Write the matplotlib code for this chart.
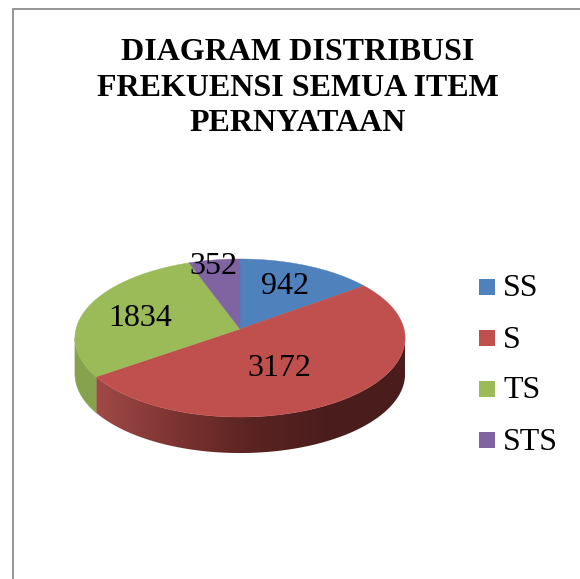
import numpy as np
import matplotlib.pyplot as plt
from matplotlib.colors import LinearSegmentedColormap
from matplotlib.patches import Polygon, Rectangle

plt.rcParams['font.family'] = ['Liberation Serif', 'DejaVu Serif']

labels = ['SS', 'S', 'TS', 'STS']
values = [942, 3172, 1834, 352]
colors = ['#4f81bd', '#c0504d', '#9bbb59', '#8064a2']
title = 'DIAGRAM DISTRIBUSI\nFREKUENSI SEMUA ITEM\nPERNYATAAN'

# pie geometry, in picture pixels
cx, cy = 240, 329
a, h, k = 164, 78, 0.114
depth = 36


def rim(theta):
    # clockwise from the top, k squeezes the far side of the disc
    u, v = np.sin(theta), np.cos(theta)
    d = 1 + k * v
    return cx + a * u / d, cy - h * v / d


def side_wall(th0, th1):
    x, y = rim(np.linspace(th0, th1, 200))
    return np.c_[np.r_[x, x[::-1]], np.r_[y, y[::-1] + depth]]


fig = plt.figure(figsize=(5.8, 5.79), dpi=100)
ax = fig.add_axes([0, 0, 1, 1])

# frame, only left and top show
ax.plot([12.5, 12.5, 580], [579, 8.5, 8.5], color='#8c8c8c', lw=1.3, solid_joinstyle='miter')

edges = np.cumsum([0] + values) / sum(values) * 2 * np.pi

# the wall only shows between the two widest points of the rim
right_end = np.arccos(-k)
left_end = 2 * np.pi - right_end

# red wall shades left to right, green stays flat
red_side = LinearSegmentedColormap.from_list(
    'red_side', ['#a04a47', '#7d3432', '#5a2422', '#4a1d1c', '#4a1d1c'])
wall = Polygon(side_wall(right_end, edges[2]), closed=True, fc='none', ec='none')
ax.add_patch(wall)
x_lo, x_hi = wall.get_xy()[:, 0].min(), wall.get_xy()[:, 0].max()
img = ax.imshow(np.linspace(0, 1, 256).reshape(1, -1), cmap=red_side, aspect='auto',
                extent=(x_lo, x_hi, 470, 300), zorder=2)
img.set_clip_path(wall)

ax.add_patch(Polygon(side_wall(edges[2], left_end), closed=True, fc='#86a24c', ec='#86a24c',
                     lw=0.3, zorder=2))

# top face
for i, col in enumerate(colors):
    x, y = rim(np.linspace(edges[i], edges[i + 1], 200))
    ax.add_patch(Polygon(np.c_[np.r_[cx, x], np.r_[cy, y]], closed=True, fc=col, ec=col,
                         lw=0.3, zorder=3))

# data labels
label_pos = [(285, 287), (279, 369), (140, 319), (213, 267)]
for val, (lx, ly) in zip(values, label_pos):
    ax.text(lx, ly, str(val), fontsize=23, ha='center', va='center', color='black', zorder=5)

# legend
legend_y = [287, 338, 389, 440]
for name, col, ly in zip(labels, colors, legend_y):
    ax.add_patch(Rectangle((479, ly - 8), 16, 16, fc=col, ec='none'))
    ax.text(503, ly + 2, name, fontsize=23, ha='left', va='center', color='black')

ax.text(298, 88, title, fontsize=23, fontweight='bold', ha='center', va='center',
        linespacing=1.3, color='black')

ax.set_xlim(0, 580)
ax.set_ylim(579, 0)
ax.axis('off')

fig.savefig('out.png', dpi=100)
